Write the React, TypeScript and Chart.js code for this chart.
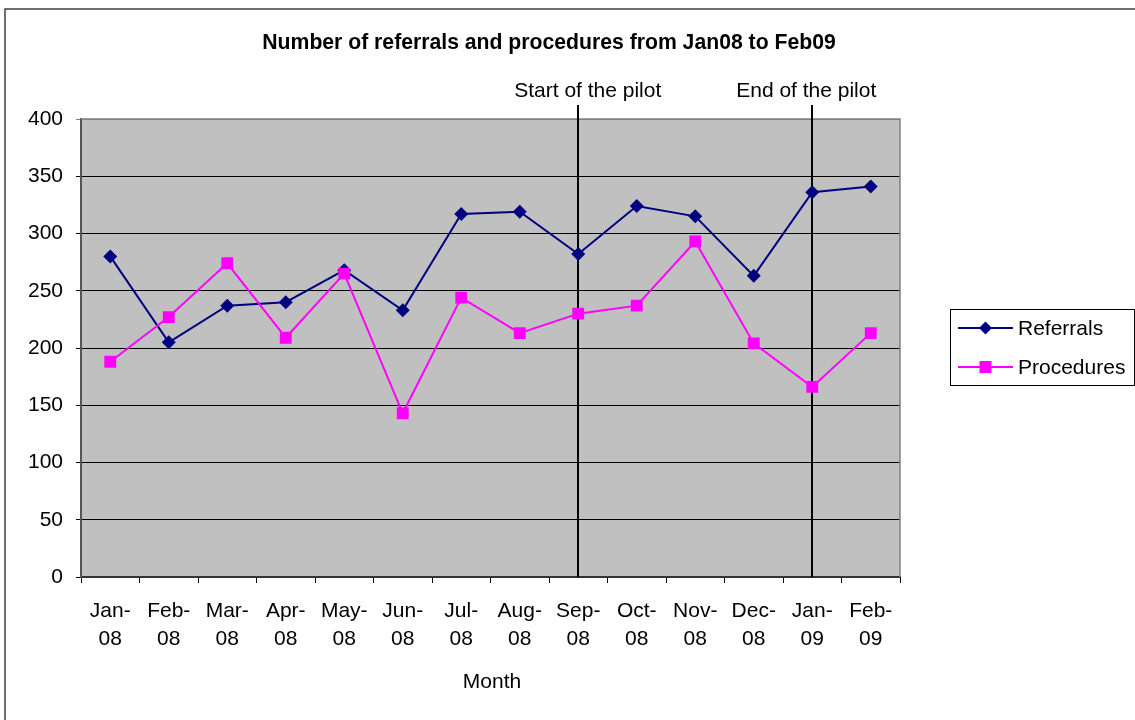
import React, { useEffect, useRef } from 'react';
import { Chart, registerables } from 'chart.js';

Chart.register(...registerables);

const months = ['Jan-08', 'Feb-08', 'Mar-08', 'Apr-08', 'May-08', 'Jun-08', 'Jul-08', 'Aug-08', 'Sep-08', 'Oct-08', 'Nov-08', 'Dec-08', 'Jan-09', 'Feb-09'];
const referrals = [280, 205, 237, 240, 268, 233, 317, 319, 282, 324, 315, 263, 336, 341];
const procedures = [188, 227, 274, 209, 265, 143, 244, 213, 230, 237, 293, 204, 166, 213];
const yMin = 0;
const yMax = 400;
const yStep = 50;
const pilotMonths = ['Sep-08', 'Jan-09'];
const pilotLabels = ['Start of the pilot', 'End of the pilot'];
const chartTitle = 'Number of referrals and procedures from Jan08 to Feb09';
const xAxisTitle = 'Month';
const seriesNames = ['Referrals', 'Procedures'];

const FONT = "'Liberation Sans', Arial, sans-serif";
const NAVY = '#000080';
const MAGENTA = '#FF00FF';

const decorPlugin = {
  id: 'decor',
  beforeDraw(chart: any) {
    const { ctx, chartArea } = chart;
    ctx.save();
    ctx.fillStyle = '#FFFFFF';
    ctx.fillRect(0, 0, chart.width, chart.height);
    ctx.fillStyle = '#C0C0C0';
    ctx.fillRect(chartArea.left, chartArea.top, chartArea.right - chartArea.left, chartArea.bottom - chartArea.top);
    // outer frame
    ctx.strokeStyle = '#404040';
    ctx.lineWidth = 1.5;
    ctx.beginPath();
    ctx.moveTo(5, chart.height + 10);
    ctx.lineTo(5, 9);
    ctx.lineTo(chart.width + 10, 9);
    ctx.stroke();
    ctx.restore();
  },
  beforeDatasetsDraw(chart: any) {
    const { ctx, chartArea, scales } = chart;
    ctx.save();
    // plot border top/right
    ctx.strokeStyle = '#808080';
    ctx.lineWidth = 1.5;
    ctx.beginPath();
    ctx.moveTo(chartArea.left, chartArea.top);
    ctx.lineTo(chartArea.right, chartArea.top);
    ctx.lineTo(chartArea.right, chartArea.bottom);
    ctx.stroke();
    // pilot lines
    ctx.strokeStyle = '#000000';
    ctx.lineWidth = 2;
    pilotMonths.forEach((m) => {
      const x = Math.round(scales.x.getPixelForValue(months.indexOf(m)));
      ctx.beginPath();
      ctx.moveTo(x, 105);
      ctx.lineTo(x, chartArea.bottom);
      ctx.stroke();
    });
    ctx.restore();
  },
  afterDraw(chart: any) {
    const { ctx, chartArea, scales } = chart;
    ctx.save();
    ctx.fillStyle = '#000000';
    // title
    ctx.font = `bold 21.2px ${FONT}`;
    ctx.textAlign = 'center';
    ctx.textBaseline = 'alphabetic';
    ctx.fillText(chartTitle, 549, 49);
    // pilot labels
    ctx.font = `21px ${FONT}`;
    const labelOffsets = [9.5, -6];
    pilotMonths.forEach((m, i) => {
      const x = scales.x.getPixelForValue(months.indexOf(m));
      ctx.fillText(pilotLabels[i], x + labelOffsets[i], 97);
    });
    // x axis title
    ctx.fillText(xAxisTitle, (chartArea.left + chartArea.right) / 2 + 1.5, 688);
    // legend
    ctx.strokeStyle = '#000000';
    ctx.lineWidth = 1;
    ctx.strokeRect(950.5, 309.5, 184, 76);
    const colors = [NAVY, MAGENTA];
    const ys = [328, 367];
    ctx.textAlign = 'left';
    seriesNames.forEach((name, i) => {
      const y = ys[i];
      ctx.strokeStyle = colors[i];
      ctx.fillStyle = colors[i];
      ctx.lineWidth = 2;
      ctx.beginPath();
      ctx.moveTo(958, y);
      ctx.lineTo(1013, y);
      ctx.stroke();
      const cx = 985.5;
      if (i === 0) {
        ctx.beginPath();
        ctx.moveTo(cx, y - 6.5);
        ctx.lineTo(cx + 6.5, y);
        ctx.lineTo(cx, y + 6.5);
        ctx.lineTo(cx - 6.5, y);
        ctx.closePath();
        ctx.fill();
      } else {
        ctx.fillRect(cx - 6, y - 6, 12, 12);
      }
      ctx.fillStyle = '#000000';
      ctx.fillText(name, 1018, y + 7);
    });
    ctx.restore();
  },
};

export default function App() {
  const canvasRef = useRef<HTMLCanvasElement | null>(null);

  useEffect(() => {
    const canvas = canvasRef.current;
    if (!canvas) return;
    const chart = new Chart(canvas, {
      type: 'line',
      data: {
        labels: months,
        datasets: [
          {
            label: seriesNames[0],
            data: referrals,
            borderColor: NAVY,
            backgroundColor: NAVY,
            borderWidth: 2,
            pointStyle: 'rectRot',
            pointRadius: 7,
            pointBorderWidth: 0,
            pointBackgroundColor: NAVY,
            tension: 0,
            order: 1,
          },
          {
            label: seriesNames[1],
            data: procedures,
            borderColor: MAGENTA,
            backgroundColor: MAGENTA,
            borderWidth: 2,
            pointStyle: 'rect',
            pointRadius: 8.4,
            pointBorderWidth: 0,
            pointBackgroundColor: MAGENTA,
            tension: 0,
            order: 0,
          },
        ],
      },
      options: {
        responsive: false,
        animation: false,
        devicePixelRatio: 1,
        layout: { padding: { left: 0, top: 119, right: 235, bottom: 0 } },
        plugins: {
          legend: { display: false },
          title: { display: false },
          tooltip: { enabled: false },
        },
        scales: {
          x: {
            type: 'category',
            offset: true,
            grid: {
              offset: true,
              drawOnChartArea: false,
              drawTicks: true,
              tickLength: 6,
              color: '#000000',
              lineWidth: 1,
            },
            border: { display: true, color: '#333333', width: 2 },
            ticks: {
              autoSkip: false,
              maxRotation: 0,
              minRotation: 0,
              padding: 14,
              color: '#000000',
              font: { family: FONT, size: 21, lineHeight: 28 / 21 },
              callback: (_v: any, i: number) => {
                const parts = months[i].split('-');
                return [parts[0] + '-', parts[1]];
              },
            },
            afterFit: (scale: any) => {
              scale.height = 143;
            },
          },
          y: {
            min: yMin,
            max: yMax,
            grid: {
              drawOnChartArea: true,
              drawTicks: true,
              tickLength: 5,
              color: (c: any) => (c.tick && c.tick.value === yMax ? '#808080' : '#000000'),
              lineWidth: 1,
            },
            border: { display: true, color: '#555555', width: 2 },
            ticks: {
              stepSize: yStep,
              padding: 13,
              color: '#000000',
              font: { family: FONT, size: 21 },
            },
            afterFit: (scale: any) => {
              scale.width = 81;
            },
          },
        },
      },
      plugins: [decorPlugin],
    });
    return () => chart.destroy();
  }, []);

  return (
    <div style={{ position: 'absolute', left: 0, top: 0, width: 1135, height: 720 }}>
      <canvas ref={canvasRef} width={1135} height={720} style={{ width: 1135, height: 720, display: 'block' }} />
    </div>
  );
}
